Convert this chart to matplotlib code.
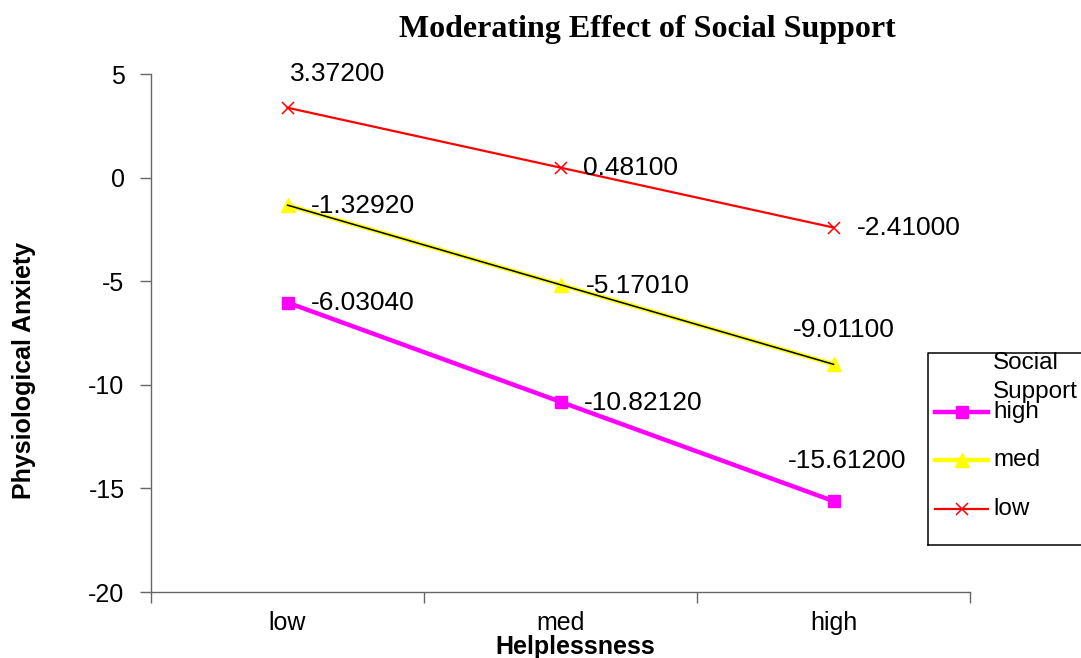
import matplotlib
matplotlib.use("Agg")
import matplotlib.pyplot as plt
from matplotlib.lines import Line2D

# Helplessness levels and predicted physiological anxiety per social-support level
categories = ["low", "med", "high"]
support_levels = ["high", "med", "low"]
high_support = [-6.03040, -10.82120, -15.61200]
med_support = [-1.32920, -5.17010, -9.01100]
low_support = [3.37200, 0.48100, -2.41000]
y_ticks = [-20, -15, -10, -5, 0, 5]

# label offsets (pixels) from each point to its value label
high_offsets = [(23, 0), (23, -1), (-46, 40)]
med_offsets = [(23, -1), (25, -1), (-41, 34)]
low_offsets = [(2, 34), (23, 0), (23, 0)]

plt.rcParams["font.family"] = ["Liberation Sans", "DejaVu Sans"]
W, H = 1081, 658
fig = plt.figure(figsize=(W / 100, H / 100), dpi=100)
ax = fig.add_axes([151 / W, 1 - 592 / H, 819 / W, 518 / H])

x = list(range(len(categories)))
axis_grey = "#666666"

# high support: thick magenta with squares
ax.plot(x, high_support, color="#FF00FF", lw=3.2, marker="s", ms=9,
        mfc="#FF00FF", mec="#FF00FF", zorder=3, clip_on=False)
# med support: yellow band with a thin black core
ax.plot(x, med_support, color="#FFFF00", lw=3.2, zorder=3, clip_on=False)
ax.plot(x, med_support, ls="none", marker="^", ms=10, mfc="#FFFF00",
        mec="#FFFF00", zorder=3.5, clip_on=False)
ax.plot(x, med_support, color="black", lw=1.1, zorder=4, clip_on=False)
# low support: red with crosses
ax.plot(x, low_support, color="#FF0000", lw=1.6, marker="x", ms=9, mew=1.1,
        mec="#FF0000", zorder=3, clip_on=False)

for series, offsets in ((high_support, high_offsets), (med_support, med_offsets),
                        (low_support, low_offsets)):
    for xi, v, off in zip(x, series, offsets):
        ax.annotate(f"{v:.5f}", (xi, v), xytext=off, textcoords="offset pixels",
                    ha="left", va="center", fontsize=19, zorder=5)

ax.set_xlim(-0.5, len(categories) - 0.5)
ax.set_ylim(-20, 5)
ax.set_yticks(y_ticks)
ax.set_yticklabels([str(t) for t in y_ticks], fontsize=18)
ax.set_xticks([i - 0.5 for i in range(len(categories) + 1)])
ax.set_xticklabels([])
ax.set_xticks(x, minor=True)
ax.set_xticklabels(categories, minor=True, fontsize=18)
ax.tick_params(axis="x", which="minor", length=0, pad=14)
ax.tick_params(axis="x", which="major", direction="out", length=8, width=1,
               color=axis_grey)
ax.tick_params(axis="y", direction="out", length=8, width=1, color=axis_grey,
               pad=11)
for side in ("top", "right"):
    ax.spines[side].set_visible(False)
for side in ("left", "bottom"):
    ax.spines[side].set_color(axis_grey)
    ax.spines[side].set_linewidth(1)

fig.text(647 / W, 1 - 30 / H, "Moderating Effect of Social Support",
         ha="center", va="center", fontsize=23, fontweight="bold",
         family=["Liberation Serif", "DejaVu Serif"])
fig.text(575 / W, 1 - 647 / H, "Helplessness", ha="center", va="center",
         fontsize=18, fontweight="bold")
fig.text(24 / W, 1 - 370 / H, "Physiological Anxiety", ha="center", va="center",
         rotation=90, fontsize=18, fontweight="bold")

# legend panel, laid out in pixel units
lg = fig.add_axes([0, 0, 1, 1], facecolor="none")
lg.set_xlim(0, W)
lg.set_ylim(H, 0)
lg.axis("off")
lg.plot([928, 928, W], [545, 353, 353], color="black", lw=1.1)
lg.plot([928, W], [545, 545], color="black", lw=1.1)
lg.text(993, 363, "Social", fontsize=17.5, va="center", ha="left")
lg.text(993, 392, "Support", fontsize=17.5, va="center", ha="left")
handle_y = [412, 460, 509]
handle_styles = [
    dict(color="#FF00FF", lw=3.2, marker="s", ms=9),
    dict(color="#FFFF00", lw=3.2, marker="^", ms=10),
    dict(color="#FF0000", lw=1.6, marker="x", ms=9, mew=1.1),
]
for name, hy, style in zip(support_levels, handle_y, handle_styles):
    lg.add_line(Line2D([935, 988], [hy, hy], **style, markevery=[]))
    lg.add_line(Line2D([961.5], [hy], ls="none", **{k: v for k, v in style.items() if k != "lw"}))
    lg.text(993, hy, name, fontsize=17.5, va="center", ha="left")

fig.savefig("out.png", dpi=100)
